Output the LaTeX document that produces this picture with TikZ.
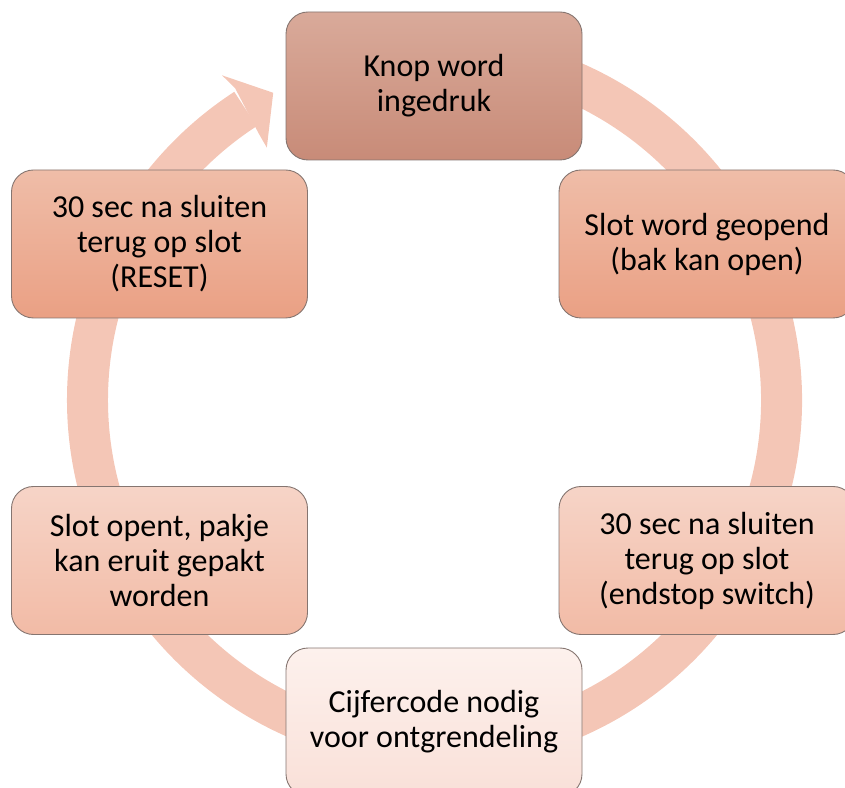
\documentclass[tikz,border=0pt]{standalone}
\usepackage{fontspec}
\setmainfont{Carlito}
\usetikzlibrary{calc}
\definecolor{ringc}{HTML}{F4C6B6}
\definecolor{bordc}{HTML}{857570}
\definecolor{aTop}{HTML}{D9AA9A}
\definecolor{aBot}{HTML}{C88B78}
\definecolor{bTop}{HTML}{EFBDA8}
\definecolor{bBot}{HTML}{EAA084}
\definecolor{cTop}{HTML}{F6D4C7}
\definecolor{cBot}{HTML}{F2BBA6}
\definecolor{dTop}{HTML}{FDF1ED}
\definecolor{dBot}{HTML}{F9E0D8}
\tikzset{
  stepbox/.style={draw=bordc, line width=0.9pt, rounded corners=22pt,
    minimum width=296pt, minimum height=148pt, inner sep=0pt,
    align=center, font=\fontsize{32}{35}\selectfont, text=black},
  darkbox/.style={stepbox, top color=aTop, bottom color=aBot},
  midbox/.style={stepbox, top color=bTop, bottom color=bBot},
  lightbox/.style={stepbox, top color=cTop, bottom color=cBot},
  palebox/.style={stepbox, top color=dTop, bottom color=dBot},
}
\begin{document}
\begin{tikzpicture}[x=1pt,y=1pt]
\useasboundingbox (0,0) rectangle (845,787);
\clip (0,0) rectangle (845,787);
\coordinate (c) at (434.5,387);
% ring with arrow head
\draw[ringc, line width=41pt] ($(c)+(100:347)$) arc[start angle=100, end angle=-237, radius=347];
\fill[ringc] ($(c)+(123.2:388)$) -- ($(c)+(117.7:347)$) -- ($(c)+(123.6:303)$) -- ($(c)+(123.4:320)$) -- ($(c)+(122.6:370)$) -- cycle;
% boxes
\node[darkbox] (n1) at (434,701) {Knop word\\ingedruk};
\node[midbox] (n2) at (707,543) {Slot word geopend\\(bak kan open)};
\node[lightbox] (n3) at (707,226.5) {30 sec na sluiten\\terug op slot\\(endstop switch)};
\node[palebox] (n4) at (434,65) {Cijfercode nodig\\voor ontgrendeling};
\node[lightbox] (n5) at (159.5,226.5) {Slot opent, pakje\\kan eruit gepakt\\worden};
\node[midbox] (n6) at (159.5,543) {30 sec na sluiten\\terug op slot\\(RESET)};
\end{tikzpicture}
\end{document}
